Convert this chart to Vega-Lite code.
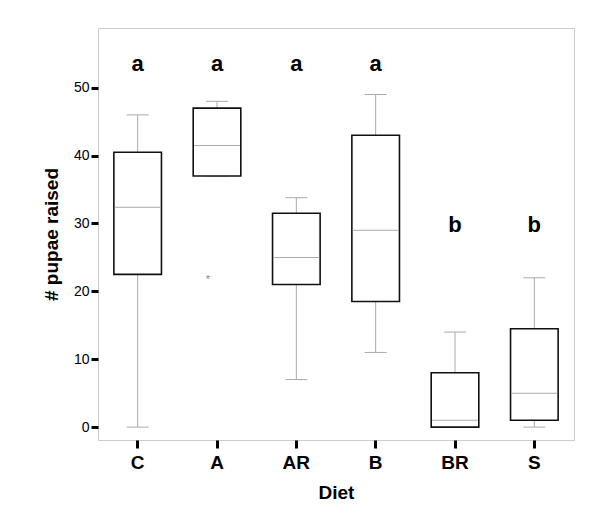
{
  "$schema": "https://vega.github.io/schema/vega-lite/v6.json",
  "width": 476,
  "height": 412,
  "autosize": "none",
  "padding": {"left": 98, "top": 28, "right": 26, "bottom": 82},
  "background": "white",
  "config": {
    "font": "Liberation Sans",
    "view": {"stroke": "#cccccc", "strokeWidth": 1}
  },
  "datasets": {
    "stats": [
      {"Diet": "C", "lo": 0, "q1": 22.5, "med": 32.4, "q3": 40.5, "hi": 46, "letter": "a", "ly": 53.5},
      {"Diet": "A", "lo": 37, "q1": 37, "med": 41.5, "q3": 47, "hi": 48, "letter": "a", "ly": 53.5},
      {"Diet": "AR", "lo": 7, "q1": 21, "med": 25, "q3": 31.5, "hi": 33.8, "letter": "a", "ly": 53.5},
      {"Diet": "B", "lo": 11, "q1": 18.5, "med": 29, "q3": 43, "hi": 49, "letter": "a", "ly": 53.5},
      {"Diet": "BR", "lo": 0, "q1": 0, "med": 1, "q3": 8, "hi": 14, "letter": "b", "ly": 29.8},
      {"Diet": "S", "lo": 0, "q1": 1, "med": 5, "q3": 14.5, "hi": 22, "letter": "b", "ly": 29.8}
    ],
    "outliers": [
      {"Diet": "A", "value": 22}
    ]
  },
  "encoding": {
    "x": {
      "field": "Diet",
      "type": "nominal",
      "sort": ["C", "A", "AR", "B", "BR", "S"],
      "scale": {"paddingInner": 0, "paddingOuter": 0},
      "axis": {
        "title": "Diet",
        "labelAngle": 0,
        "domain": false,
        "ticks": true,
        "tickColor": "black",
        "tickWidth": 3,
        "tickSize": 8,
        "labelFontSize": 19,
        "labelFontWeight": "bold",
        "labelColor": "black",
        "labelPadding": 5,
        "titleFontSize": 19,
        "titleFontWeight": "bold",
        "titleColor": "black",
        "titlePadding": 11
      }
    }
  },
  "layer": [
    {
      "data": {"name": "stats"},
      "mark": {"type": "rule", "color": "#aaaaaa", "strokeWidth": 1},
      "encoding": {
        "y": {
          "field": "lo",
          "type": "quantitative",
          "scale": {"domain": [-1.9, 58.8], "nice": false, "zero": false},
          "axis": {
            "title": "# pupae raised",
            "values": [0, 10, 20, 30, 40, 50],
            "grid": false,
            "domain": false,
            "tickColor": "black",
            "tickWidth": 3,
            "tickSize": 7,
            "labelFontSize": 14,
            "labelColor": "black",
            "labelPadding": 2,
            "titleFontSize": 19,
            "titleFontWeight": "bold",
            "titleColor": "black",
            "titlePadding": 12
          }
        },
        "y2": {"field": "q1"}
      }
    },
    {
      "data": {"name": "stats"},
      "mark": {"type": "rule", "color": "#aaaaaa", "strokeWidth": 1},
      "encoding": {
        "y": {"field": "q3", "type": "quantitative"},
        "y2": {"field": "hi"}
      }
    },
    {
      "data": {"name": "stats"},
      "mark": {"type": "tick", "color": "#aaaaaa", "thickness": 1, "size": 22, "opacity": 1},
      "encoding": {
        "y": {"field": "lo", "type": "quantitative"}
      }
    },
    {
      "data": {"name": "stats"},
      "mark": {"type": "tick", "color": "#aaaaaa", "thickness": 1, "size": 22, "opacity": 1},
      "encoding": {
        "y": {"field": "hi", "type": "quantitative"}
      }
    },
    {
      "data": {"name": "stats"},
      "mark": {"type": "bar", "fill": "white", "stroke": "#111111", "strokeWidth": 1.6, "width": {"band": 0.6}},
      "encoding": {
        "y": {"field": "q1", "type": "quantitative"},
        "y2": {"field": "q3"}
      }
    },
    {
      "data": {"name": "stats"},
      "mark": {"type": "tick", "color": "#aaaaaa", "thickness": 1, "size": 46, "opacity": 1},
      "encoding": {
        "y": {"field": "med", "type": "quantitative"}
      }
    },
    {
      "data": {"name": "stats"},
      "mark": {"type": "text", "fontSize": 22, "fontWeight": "bold", "color": "black", "baseline": "middle"},
      "encoding": {
        "y": {"field": "ly", "type": "quantitative"},
        "text": {"field": "letter"}
      }
    },
    {
      "data": {"name": "outliers"},
      "mark": {"type": "text", "text": "*", "fontSize": 11, "color": "#888888", "baseline": "middle", "xOffset": -9, "dy": 2},
      "encoding": {
        "y": {"field": "value", "type": "quantitative"}
      }
    }
  ]
}
